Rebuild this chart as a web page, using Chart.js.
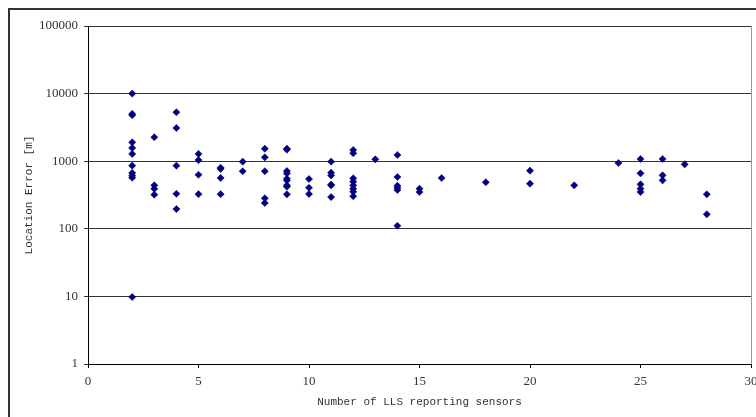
<!DOCTYPE html>
<html>
<head>
<meta charset="utf-8">
<script src="https://cdn.jsdelivr.net/npm/chart.js@4"></script>
<style>
  html, body { margin: 0; padding: 0; background: #fff; overflow: hidden; }
  #wrap { position: relative; width: 756px; height: 417px; }
  #frame { position: absolute; left: 8px; top: 8px; width: 800px; height: 460px; border: 2px solid #333; box-sizing: border-box; }
  canvas { position: absolute; left: 0; top: 0; }
</style>
</head>
<body>
<div id="wrap">
  <div id="frame"></div>
  <canvas id="scatter" width="756" height="417"></canvas>
</div>
<script>
// number of reporting sensors (x) and location error in metres (y)
var sensors = [
    2, 2, 2, 2, 2, 2, 2, 2, 2, 2, 2,
    3, 3, 3, 3,
    4, 4, 4, 4, 4,
    5, 5, 5, 5,
    6, 6, 6, 6,
    7, 7,
    8, 8, 8, 8, 8,
    9, 9, 9, 9, 9, 9, 9, 9, 9,
    10, 10, 10,
    11, 11, 11, 11, 11, 11,
    12, 12, 12, 12, 12, 12, 12, 12,
    13,
    14, 14, 14, 14, 14, 14,
    15, 15,
    16, 18, 20, 20, 22, 24,
    25, 25, 25, 25, 25,
    26, 26, 26,
    27, 28, 28
];
var errors = [
    10000, 5000, 4800, 1900, 1570, 1280, 860, 670, 610, 570, 9.8,
    2260, 440, 390, 320,
    5300, 3100, 860, 330, 196,
    1280, 1040, 630, 325,
    800, 770, 565, 325,
    985, 710,
    1530, 1140, 710, 283, 241,
    1530, 1480, 715, 660, 550, 520, 440, 420, 324,
    545, 405, 327,
    985, 676, 617, 450, 440, 295,
    1465, 1310, 558, 498, 440, 392, 354, 303,
    1067,
    1236, 584, 434, 405, 375, 111,
    392, 350,
    564, 488, 724, 465, 440, 940,
    1078, 661, 455, 392, 350,
    1078, 618, 521,
    900, 324, 164
];
var yTicks = [1, 10, 100, 1000, 10000, 100000];

var points = sensors.map(function (s, i) { return { x: s, y: errors[i] }; });

// grey right edge of the plot area
var plotBorder = {
    id: 'plotBorder',
    afterDraw: function (chart) {
        var a = chart.chartArea, c = chart.ctx;
        c.save();
        c.strokeStyle = '#999';
        c.lineWidth = 1;
        c.beginPath();
        c.moveTo(a.right + 0.5, a.top);
        c.lineTo(a.right + 0.5, a.bottom);
        c.stroke();
        c.restore();
    }
};

var ctx = document.getElementById('scatter');
var myChart = new Chart(ctx, {
    type: 'scatter',
    data: {
        datasets: [{
            data: points,
            pointStyle: 'rectRot',
            pointRadius: 3.6,
            pointHoverRadius: 3.6,
            backgroundColor: '#000080',
            borderColor: '#000080',
            borderWidth: 0.5
        }]
    },
    options: {
        responsive: false,
        animation: false,
        layout: { padding: { left: 0, right: 5, top: 26, bottom: 0 } },
        plugins: { legend: { display: false }, tooltip: { enabled: false } },
        scales: {
            x: {
                type: 'linear',
                min: 0,
                max: 30,
                ticks: {
                    stepSize: 5,
                    padding: 6,
                    color: '#333',
                    font: { family: 'Liberation Serif', size: 13 }
                },
                grid: { drawOnChartArea: false, drawTicks: true, tickLength: 4, color: '#000' },
                border: { color: '#000', width: 1 },
                title: {
                    display: true,
                    text: 'Number of LLS reporting sensors',
                    color: '#333',
                    font: { family: 'Liberation Mono', size: 11 },
                    padding: { top: 2, bottom: 8 }
                },
                afterFit: function (s) { s.height = 53; s.paddingLeft = 0; s.paddingRight = 0; }
            },
            y: {
                type: 'logarithmic',
                min: 1,
                max: 100000,
                afterBuildTicks: function (s) {
                    s.ticks = yTicks.map(function (v) { return { value: v }; });
                },
                ticks: {
                    padding: 6,
                    color: '#333',
                    font: { family: 'Liberation Serif', size: 13 },
                    callback: function (v) { return String(v); }
                },
                grid: { color: '#333', tickLength: 4 },
                border: { color: '#000', width: 1 },
                title: {
                    display: true,
                    text: 'Location Error [m]',
                    color: '#333',
                    font: { family: 'Liberation Mono', size: 11 },
                    padding: { top: 22, bottom: 0 }
                },
                afterFit: function (s) { s.width = 88; s.paddingTop = 0; s.paddingBottom = 0; }
            }
        }
    },
    plugins: [plotBorder]
});
</script>
</body>
</html>
